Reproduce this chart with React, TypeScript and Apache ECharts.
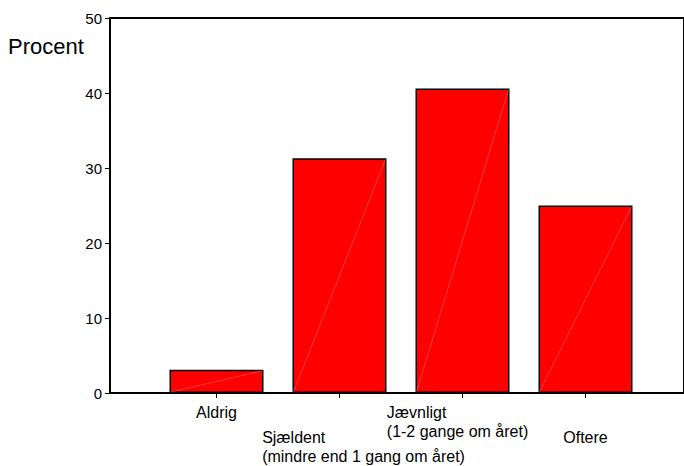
import React, { useEffect, useRef } from 'react';
import * as echarts from 'echarts';

const categories = [
  'Aldrig',
  'Sjældent\n(mindre end 1 gang om året)',
  'Jævnligt\n(1-2 gange om året)',
  'Oftere',
];
const values = [3.1, 31.3, 40.6, 25.0];
const yMin = 0;
const yMax = 50;
const yStep = 10;
const yName = 'Procent';

const FONT = '"Liberation Sans", Arial, Helvetica, sans-serif';
const BAR_W = 94;
const labelPadding = [
  [0, 0, 0, 0],
  [25, 0, 0, 48],
  [0, 10, 0, 0],
  [25, 0, 0, 0],
];

export default function App() {
  const ref = useRef<HTMLDivElement>(null);
  useEffect(() => {
    if (!ref.current) return;
    const chart = echarts.init(ref.current, undefined, { renderer: 'svg' });
    const option: any = {
      animation: false,
      backgroundColor: '#fff',
      textStyle: { fontFamily: FONT, color: '#000' },
      grid: [
        { left: 110, right: -20, top: 18, bottom: 73, show: true, borderColor: '#000', borderWidth: 2, backgroundColor: 'transparent' },
        { left: 155, width: 492, top: 18, bottom: 73 },
      ],
      xAxis: [
        {
          type: 'value', gridIndex: 0, min: 0, max: 1,
          axisLine: { show: true, lineStyle: { color: '#000', width: 2 } },
          axisTick: { show: false }, axisLabel: { show: false }, splitLine: { show: false },
        },
        {
          type: 'category', gridIndex: 1,
          data: categories.map((c, i) => ({ value: c, textStyle: { padding: labelPadding[i] } })),
          axisLine: { show: false },
          axisTick: { show: true, alignWithLabel: true, length: 5, lineStyle: { color: '#000', width: 1 } },
          axisLabel: {
            interval: 0, margin: 10, color: '#000', fontFamily: FONT, fontSize: 16, lineHeight: 19,
            formatter: (v: string) => v.split('\n').map((l) => `{l|${l}}`).join('\n'),
            rich: { l: { align: 'left', fontFamily: FONT, fontSize: 16, lineHeight: 19, color: '#000' } },
          },
          splitLine: { show: false },
        },
      ],
      yAxis: [
        {
          type: 'value', gridIndex: 0, min: yMin, max: yMax, interval: yStep,
          axisLine: { show: true, lineStyle: { color: '#000', width: 2 } },
          axisTick: { show: true, length: 5, lineStyle: { color: '#000', width: 1 } },
          axisLabel: { color: '#000', fontFamily: FONT, fontSize: 15, margin: 8 },
          splitLine: { show: false },
        },
        {
          type: 'value', gridIndex: 1, min: yMin, max: yMax, interval: yStep, show: false,
          splitLine: { show: false },
        },
      ],
      graphic: [
        { type: 'text', left: 8, top: 35, style: { text: yName, fontFamily: FONT, fontSize: 22, fill: '#000' } },
      ],
      series: [
        {
          type: 'bar', xAxisIndex: 1, yAxisIndex: 1, data: values, barWidth: BAR_W,
          itemStyle: { color: '#ff0000', borderColor: '#000', borderWidth: 1.5 },
          z: 2,
        },
        {
          type: 'custom', xAxisIndex: 1, yAxisIndex: 1, z: 3,
          data: values.map((v, i) => [i, v]),
          encode: { x: 0, y: 1 },
          renderItem: (params: any, api: any) => {
            const idx = api.value(0);
            const v = api.value(1);
            const base = api.coord([idx, 0]);
            const top = api.coord([idx, v]);
            const w = BAR_W - 2;
            return {
              type: 'line',
              shape: { x1: base[0] - w / 2, y1: base[1] - 1, x2: base[0] + w / 2, y2: top[1] + 1 },
              style: { stroke: 'rgba(255,170,170,0.6)', lineWidth: 0.6 },
            };
          },
        },
      ],
    };
    chart.setOption(option);
    return () => chart.dispose();
  }, []);
  return <div ref={ref} style={{ position: 'fixed', left: 0, top: 0, width: 684, height: 466 }} />;
}
